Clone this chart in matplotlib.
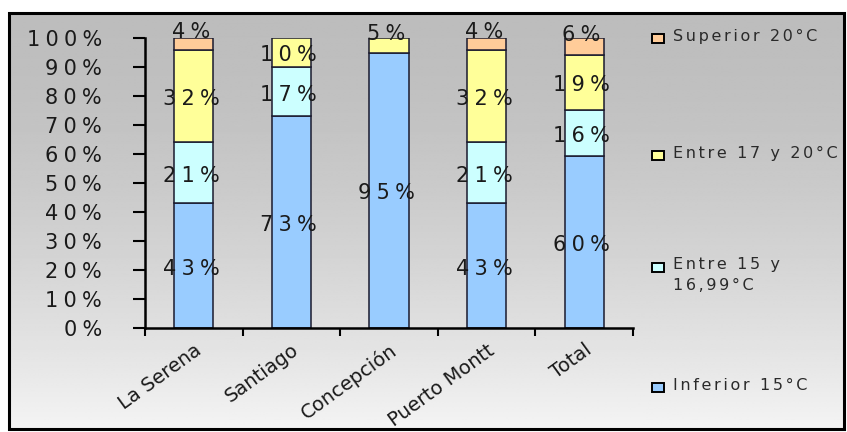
import numpy as np
import matplotlib.pyplot as plt
from matplotlib.patches import Rectangle

# Share of households by indoor temperature range, per city
cities = ["La Serena", "Santiago", "Concepción", "Puerto Montt", "Total"]
series_names = ["Inferior 15°C", "Entre 15 y\n16,99°C", "Entre 17 y 20°C", "Superior 20°C"]
inferior_15 = [43, 73, 95, 43, 60]
entre_15_17 = [21, 17, 0, 21, 16]
entre_17_20 = [32, 10, 5, 32, 19]
superior_20 = [4, 0, 0, 4, 6]
series_colors = ["#99ccff", "#ccffff", "#ffff99", "#ffcc99"]
y_ticks = [0, 10, 20, 30, 40, 50, 60, 70, 80, 90, 100]

W, H = 847, 432
WIDE = "\u2005"   # four-per-em space
NARROW = "\u2006"  # six-per-em space


def spaced(text, gap=WIDE, trail=False):
    """Widen letter spacing by inserting a gap between characters."""
    out = gap.join(text)
    return out + gap if trail else out


fig = plt.figure(figsize=(W / 100, H / 100), dpi=100)
fig.patch.set_facecolor("white")

# Background panel with vertical grey gradient and black frame
bg = fig.add_axes([0, 0, 1, 1], zorder=-1)
bg.set_xlim(0, W)
bg.set_ylim(H, 0)
bg.axis("off")
t = np.linspace(0, 1, 256)[:, None]
shade = 0.74 + 0.215 * t ** 1.6
grad = np.repeat(shade, 2, axis=1)
bg.imshow(grad, cmap="gray", vmin=0, vmax=1, aspect="auto",
          extent=(9, 844, 429, 13), interpolation="bilinear")
bg.add_patch(Rectangle((9, 13), 835, 416, fill=False, edgecolor="black", linewidth=2.2))

# Plot area
ax = fig.add_axes([145 / W, 1 - 328 / H, 488 / W, 290 / H])
ax.set_facecolor("none")

stack = np.array([inferior_15, entre_15_17, entre_17_20, superior_20], dtype=float)
shares = stack / stack.sum(axis=0) * 100.0
x = np.arange(len(cities))
bottom = np.zeros(len(cities))
for k, (vals, share, color) in enumerate(zip(stack, shares, series_colors)):
    mask = share > 0
    ax.bar(x[mask], share[mask], width=0.4, bottom=bottom[mask], color=color,
           edgecolor="#1a1a2e", linewidth=1.1, zorder=2)
    for j, (xi, v, s, b) in enumerate(zip(x, vals, share, bottom)):
        if v <= 0:
            continue
        is_top = np.all(stack[k + 1:, j] == 0)
        ypos = b + s / 2
        # thin top segments get their label nudged upward
        ypos += 4.0 if (is_top and s < 8) else -1.0
        ax.text(xi, ypos, spaced(f"{int(v)}%", trail=True), ha="center", va="center",
                fontsize=15, color="#1a1a1a", zorder=3)
    bottom = bottom + share

ax.set_xlim(-0.5, len(cities) - 0.5)
ax.set_ylim(0, 100)

ax.set_yticks(y_ticks)
ax.set_yticklabels([spaced(f"{v}%") for v in y_ticks], fontsize=15, color="#1a1a1a")
ax.tick_params(axis="y", direction="out", length=9, width=1.5, pad=22)

ax.set_xticks(np.arange(-0.5, len(cities), 1.0))
ax.set_xticklabels([])
ax.tick_params(axis="x", which="major", direction="out", length=6, width=1.5)
ax.set_xticks(x, minor=True)
ax.set_xticklabels(cities, minor=True, rotation=36, ha="right", va="top",
                   rotation_mode="anchor", fontsize=14, color="#1a1a1a")
ax.tick_params(axis="x", which="minor", length=0, pad=9)

for side in ("top", "right"):
    ax.spines[side].set_visible(False)
for side in ("left", "bottom"):
    ax.spines[side].set_linewidth(1.8)

# Legend, top to bottom
legend_rows = [(3, 38), (2, 155), (1, 267), (0, 387)]
for idx, ypix in legend_rows:
    bg.add_patch(Rectangle((652, ypix - 4.5), 12, 9, facecolor=series_colors[idx],
                           edgecolor="black", linewidth=1.4))
    label = "\n".join(spaced(line, NARROW) for line in series_names[idx].split("\n"))
    bg.text(673, ypix - 9.5, label, ha="left", va="top", fontsize=11.5,
            color="#2a2a2a", linespacing=1.45)

fig.savefig("out.png", dpi=100)
